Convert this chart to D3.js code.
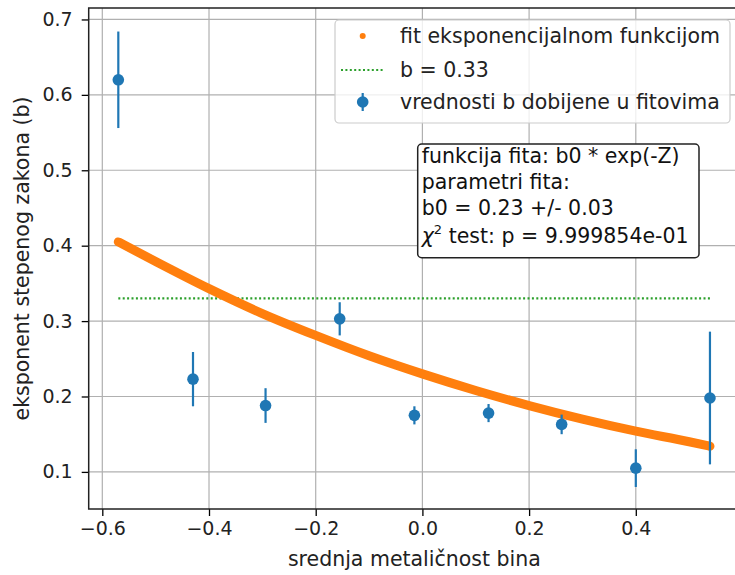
<!DOCTYPE html>
<html><head><meta charset="utf-8">
<script src="https://cdn.jsdelivr.net/npm/d3@7"></script>
<style>body{margin:0;background:#fff}svg{display:block}text{font-family:"DejaVu Sans",sans-serif}</style>
</head><body><svg id="c" width="735" height="575"></svg>
<script>
// Measured data points (mean metallicity of bin, fitted exponent b, error)
const binX = [-0.570, -0.430, -0.294, -0.155, -0.015, 0.124, 0.261, 0.400, 0.539];
const bVals = [0.620, 0.223, 0.188, 0.303, 0.175, 0.178, 0.163, 0.105, 0.198];
const bErrs = [0.064, 0.036, 0.023, 0.022, 0.012, 0.012, 0.013, 0.025, 0.088];
// Fit curve values
const fitX = [-0.570, -0.5, -0.4, -0.3, -0.2, -0.1, 0.0, 0.1, 0.2, 0.3, 0.4, 0.5, 0.539];
const fitY = [0.405, 0.379, 0.343, 0.310, 0.281, 0.254, 0.230, 0.208, 0.188, 0.170, 0.154, 0.140, 0.134];
const refB = 0.33;
const xTicks = [-0.6, -0.4, -0.2, 0.0, 0.2, 0.4];
const yTicks = [0.1, 0.2, 0.3, 0.4, 0.5, 0.6, 0.7];
const legendLabels = ["fit eksponencijalnom funkcijom", "b = 0.33", "vrednosti b dobijene u fitovima"];
const infoLines = ["funkcija fita: b0 * exp(-Z)", "parametri fita:", "b0 = 0.23 +/- 0.03", "test: p = 9.999854e-01"];

const svg = d3.select("#c");
const L = 88.7, R = 740.1, T = 8, B = 509;
const x = d3.scaleLinear().domain([-0.6255, 0.5955]).range([L, R]);
const y = d3.scaleLinear().domain([0.0508, 0.7152]).range([B, T]);
const blue = "#1f77b4", orange = "#ff7f0e", green = "#2ca02c";

// grid
const g = svg.append("g");
g.selectAll(".gx").data(xTicks).join("line").attr("x1", d => x(d)).attr("x2", d => x(d))
  .attr("y1", T).attr("y2", B).attr("stroke", "#b0b0b0").attr("stroke-width", 1.2);
g.selectAll(".gy").data(yTicks).join("line").attr("y1", d => y(d)).attr("y2", d => y(d))
  .attr("x1", L).attr("x2", R).attr("stroke", "#b0b0b0").attr("stroke-width", 1.2);

// reference line
svg.append("line").attr("x1", x(binX[0])).attr("x2", x(binX[binX.length - 1]))
  .attr("y1", y(refB)).attr("y2", y(refB)).attr("stroke", green).attr("stroke-width", 2.2)
  .attr("stroke-dasharray", "2,2.4");

// fit curve
const line = d3.line().x((d, i) => x(fitX[i])).y(d => y(d)).curve(d3.curveMonotoneX);
svg.append("path").attr("d", line(fitY)).attr("fill", "none").attr("stroke", orange)
  .attr("stroke-width", 9).attr("stroke-linecap", "round");

// error bars
const eb = svg.append("g");
binX.forEach((xv, i) => {
  eb.append("line").attr("x1", x(xv)).attr("x2", x(xv)).attr("y1", y(bVals[i] - bErrs[i]))
    .attr("y2", y(bVals[i] + bErrs[i])).attr("stroke", blue).attr("stroke-width", 2.2);
  eb.append("circle").attr("cx", x(xv)).attr("cy", y(bVals[i])).attr("r", 5.8).attr("fill", blue);
});

// axes
const xa = svg.append("g").attr("transform", `translate(0,${B})`)
  .call(d3.axisBottom(x).tickValues(xTicks).tickSize(7).tickPadding(6).tickFormat(d3.format(".1f")));
const ya = svg.append("g").attr("transform", `translate(${L},0)`)
  .call(d3.axisLeft(y).tickValues(yTicks).tickSize(7).tickPadding(9).tickFormat(d3.format(".1f")));
[xa, ya].forEach(a => {
  a.select(".domain").remove();
  a.selectAll("line").attr("stroke", "#000").attr("stroke-width", 1.3);
  a.selectAll("text").attr("font-size", 19).attr("fill", "#222").attr("font-family", "DejaVu Sans");
});
// spines
svg.append("rect").attr("x", L).attr("y", T).attr("width", R - L).attr("height", B - T)
  .attr("fill", "none").attr("stroke", "#222").attr("stroke-width", 1.5);

// axis labels
svg.append("text").attr("x", (L + 740) / 2).attr("y", 566).attr("text-anchor", "middle")
  .attr("font-size", 20.5).attr("fill", "#222").text("srednja metaličnost bina");
svg.append("text").attr("transform", `translate(29,${(T + B) / 2}) rotate(-90)`).attr("text-anchor", "middle")
  .attr("font-size", 20.5).attr("fill", "#222").text("eksponent stepenog zakona (b)");

// legend
const lg = svg.append("g");
lg.append("rect").attr("x", 335).attr("y", 20).attr("width", 395).attr("height", 103).attr("rx", 4)
  .attr("fill", "rgba(255,255,255,0.8)").attr("stroke", "#cccccc").attr("stroke-width", 1.2);
const rows = [36, 70, 102];
lg.append("circle").attr("cx", 362.7).attr("cy", rows[0]).attr("r", 3).attr("fill", orange);
lg.append("line").attr("x1", 341).attr("x2", 383).attr("y1", rows[1]).attr("y2", rows[1])
  .attr("stroke", green).attr("stroke-width", 2.2).attr("stroke-dasharray", "2,2.4");
lg.append("line").attr("x1", 362.7).attr("x2", 362.7).attr("y1", rows[2] - 9).attr("y2", rows[2] + 9)
  .attr("stroke", blue).attr("stroke-width", 2.2);
lg.append("circle").attr("cx", 362.7).attr("cy", rows[2]).attr("r", 5.8).attr("fill", blue);
legendLabels.forEach((t, i) => lg.append("text").attr("x", 400).attr("y", rows[i] + 7)
  .attr("font-size", 20.5).attr("fill", "#222").text(t));

// info box
const ib = svg.append("g");
ib.append("rect").attr("x", 417.7).attr("y", 144).attr("width", 281.3).attr("height", 113.7).attr("rx", 4)
  .attr("fill", "#fff").attr("stroke", "#222").attr("stroke-width", 1.5);
const base = [163, 189, 215, 243];
infoLines.forEach((t, i) => {
  const tx = ib.append("text").attr("x", 421.7).attr("y", base[i]).attr("font-size", 20.5).attr("fill", "#111");
  if (i === 3) {
    tx.append("tspan").attr("font-style", "italic").text("χ");
    tx.append("tspan").attr("font-size", 13).attr("dy", -9).text("2");
    tx.append("tspan").attr("dy", 9).text(" " + t);
  } else tx.text(t);
});
</script></body></html>
